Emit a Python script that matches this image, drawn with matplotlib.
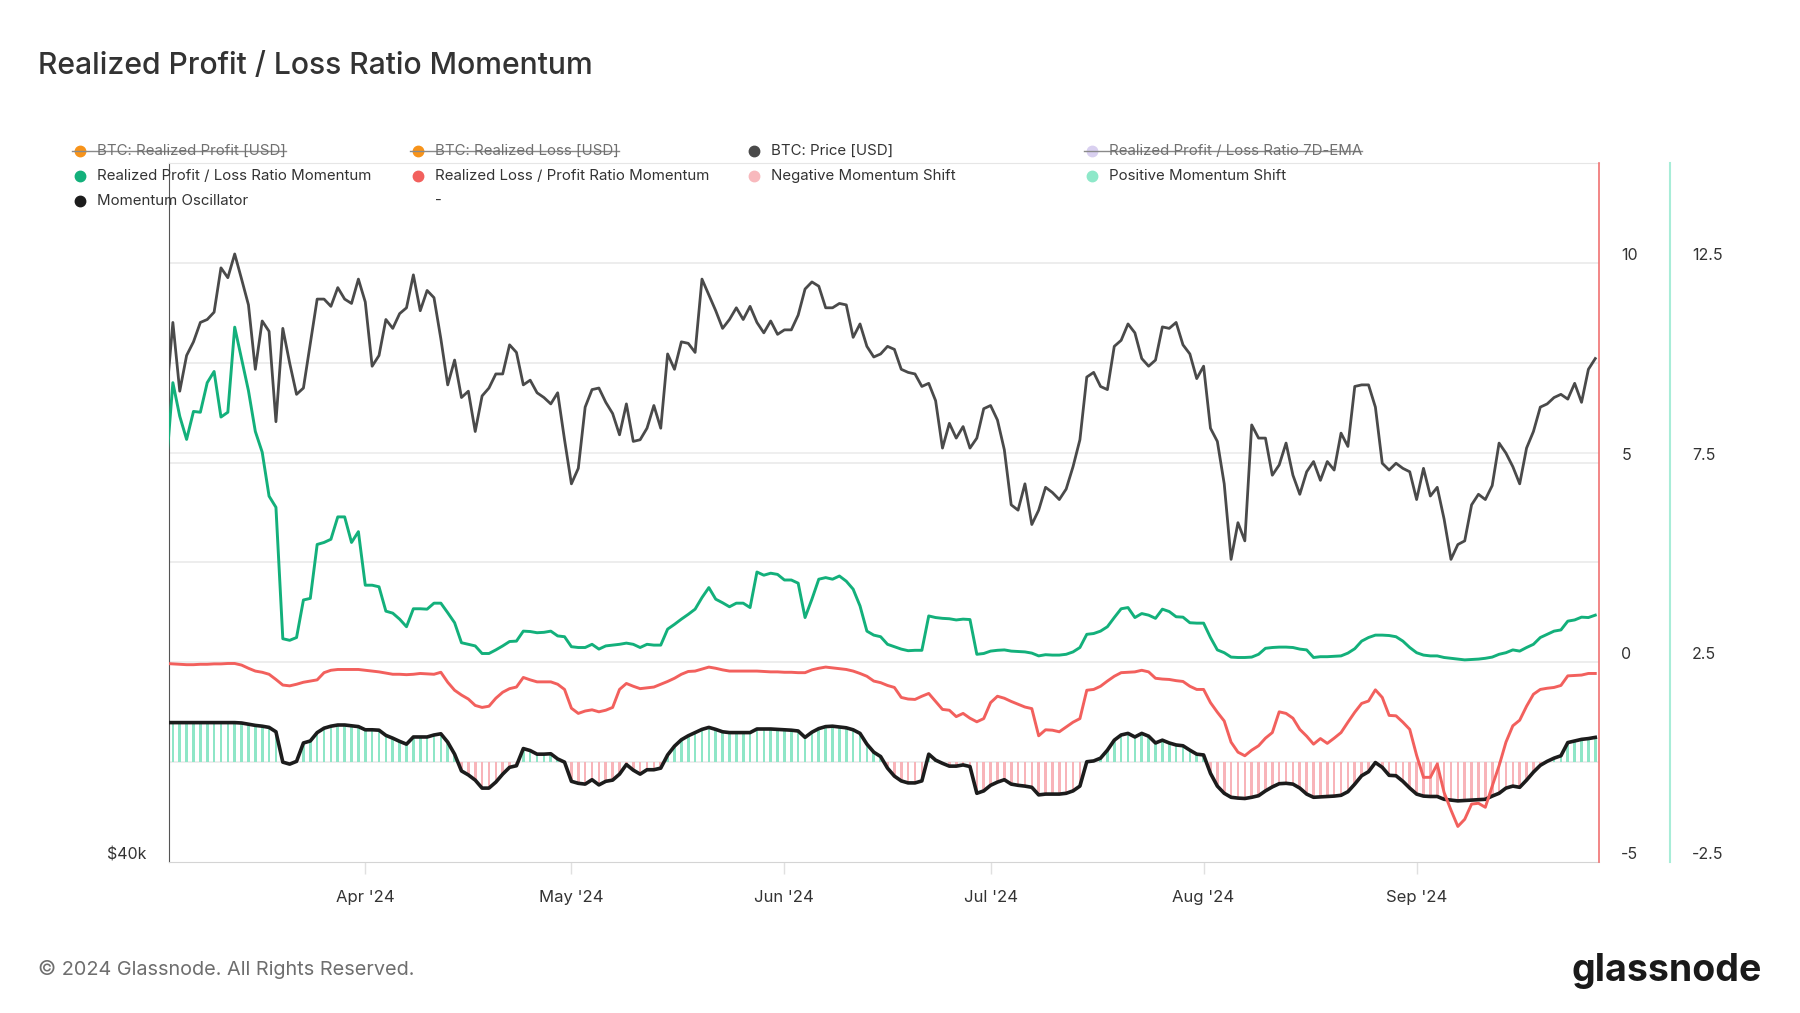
import matplotlib

matplotlib.use("Agg")
import matplotlib.dates as mdates
import matplotlib.pyplot as plt
import numpy as np
import pandas as pd
from matplotlib.lines import Line2D
from matplotlib.ticker import NullLocator
from matplotlib.transforms import blended_transform_factory

plt.rcParams["font.family"] = ["Inter", "DejaVu Sans"]

W, H = 1800, 1013

# daily values, 2024-03-03 .. 2024-09-27
dates = pd.date_range("2024-03-03", "2024-09-27", freq="D")

price_k = (
    # Mar 3-31
    [63.1, 68.3, 63.8, 66.1, 67.0, 68.3, 68.5, 69.0, 72.1, 71.4, 73.1, 71.3,
     69.5, 65.2, 68.4, 67.7, 61.9, 67.9, 65.6, 63.6, 64.0, 66.9, 69.9, 69.9,
     69.4, 70.7, 69.9, 69.6, 71.3]
    # Apr
    + [69.7, 65.4, 66.1, 68.5, 67.9, 68.9, 69.3, 71.6, 69.1, 70.5, 70.0, 67.2,
       64.2, 65.8, 63.4, 63.8, 61.3, 63.5, 64.0, 64.9, 64.9, 66.8, 66.3, 64.2,
       64.5, 63.7, 63.4, 63.0, 63.7, 60.8]
    # May
    + [58.2, 59.1, 62.8, 63.9, 64.0, 63.1, 62.4, 61.1, 63.0, 60.7, 60.8, 61.5,
       62.9, 61.5, 66.2, 65.2, 67.0, 66.9, 66.3, 71.3, 70.2, 69.1, 67.9, 68.5,
       69.3, 68.5, 69.4, 68.3, 67.6, 68.4, 67.5]
    # Jun
    + [67.8, 67.8, 68.8, 70.6, 71.1, 70.8, 69.3, 69.3, 69.6, 69.5, 67.3, 68.2,
       66.7, 66.0, 66.2, 66.7, 66.5, 65.2, 65.0, 64.9, 64.1, 64.3, 63.2, 60.3,
       61.8, 60.9, 61.6, 60.3, 60.9, 62.7]
    # Jul
    + [62.9, 62.0, 60.2, 57.0, 56.7, 58.2, 55.9, 56.7, 58.0, 57.7, 57.3, 57.9,
       59.2, 60.8, 64.7, 65.0, 64.1, 63.9, 66.7, 67.1, 68.2, 67.6, 65.9, 65.4,
       65.8, 68.0, 67.9, 68.3, 66.8, 66.2, 64.6]
    # Aug
    + [65.4, 61.5, 60.7, 58.2, 54.0, 56.0, 55.0, 61.7, 60.9, 60.9, 58.7, 59.3,
       60.6, 58.7, 57.6, 58.9, 59.5, 58.4, 59.5, 59.0, 61.2, 60.4, 64.1, 64.2,
       64.2, 62.8, 59.4, 59.0, 59.4, 59.1, 58.9]
    # Sep 1-27
    + [57.3, 59.1, 57.5, 58.0, 56.2, 54.0, 54.8, 55.0, 57.0, 57.6, 57.3, 58.1,
       60.6, 60.0, 59.2, 58.2, 60.3, 61.3, 62.8, 63.0, 63.4, 63.6, 63.3, 64.3,
       63.1, 65.2, 65.9]
)

pl_momentum = (
    [4.8, 7.0, 6.16, 5.58, 6.28, 6.26, 7.0, 7.28, 6.14, 6.26, 8.39, 7.6, 6.8,
     5.78, 5.26, 4.16, 3.88, 0.59, 0.55, 0.62, 1.56, 1.6, 2.95, 3.0, 3.08, 3.64,
     3.64, 3.0, 3.27]
    + [1.93, 1.93, 1.89, 1.28, 1.23, 1.08, 0.89, 1.34, 1.34, 1.33, 1.48, 1.48,
       1.24, 0.99, 0.49, 0.45, 0.41, 0.22, 0.22, 0.31, 0.41, 0.52, 0.53, 0.78,
       0.77, 0.74, 0.75, 0.78, 0.66, 0.64]
    + [0.39, 0.37, 0.37, 0.45, 0.33, 0.41, 0.43, 0.45, 0.48, 0.45, 0.37, 0.45,
       0.43, 0.43, 0.83, 0.95, 1.08, 1.2, 1.33, 1.62, 1.87, 1.58, 1.49, 1.39,
       1.48, 1.48, 1.37, 2.26, 2.18, 2.23, 2.2]
    + [2.06, 2.06, 1.98, 1.12, 1.58, 2.08, 2.12, 2.08, 2.16, 2.03, 1.83, 1.41,
       0.78, 0.68, 0.64, 0.45, 0.39, 0.33, 0.29, 0.3, 0.3, 1.16, 1.12, 1.1,
       1.09, 1.06, 1.08, 1.07, 0.2, 0.22]
    + [0.28, 0.3, 0.31, 0.28, 0.27, 0.26, 0.23, 0.16, 0.19, 0.18, 0.18, 0.2,
       0.26, 0.37, 0.7, 0.72, 0.78, 0.89, 1.12, 1.34, 1.37, 1.12, 1.22, 1.18,
       1.1, 1.33, 1.27, 1.14, 1.13, 0.99, 0.98]
    + [0.98, 0.62, 0.31, 0.24, 0.13, 0.12, 0.12, 0.13, 0.2, 0.35, 0.37, 0.38,
       0.38, 0.37, 0.33, 0.31, 0.12, 0.14, 0.14, 0.15, 0.16, 0.23, 0.34, 0.53,
       0.62, 0.68, 0.68, 0.67, 0.64, 0.53, 0.37]
    + [0.24, 0.18, 0.16, 0.16, 0.12, 0.1, 0.08, 0.06, 0.07, 0.08, 0.1, 0.13,
       0.2, 0.24, 0.31, 0.28, 0.37, 0.45, 0.62, 0.7, 0.78, 0.81, 1.03, 1.06,
       1.13, 1.12, 1.18]
)

lp_momentum = (
    [-0.03, -0.04, -0.05, -0.06, -0.06, -0.05, -0.05, -0.04, -0.04, -0.03,
     -0.03, -0.07, -0.15, -0.22, -0.25, -0.3, -0.43, -0.57, -0.59, -0.55, -0.5,
     -0.47, -0.44, -0.26, -0.2, -0.18, -0.18, -0.18, -0.18]
    + [-0.2, -0.22, -0.24, -0.27, -0.3, -0.3, -0.31, -0.3, -0.28, -0.29, -0.3,
       -0.25, -0.5, -0.7, -0.82, -0.92, -1.08, -1.13, -1.1, -0.9, -0.75, -0.66,
       -0.62, -0.38, -0.44, -0.49, -0.49, -0.49, -0.55, -0.68]
    + [-1.15, -1.28, -1.22, -1.19, -1.24, -1.2, -1.13, -0.68, -0.53, -0.6,
       -0.66, -0.64, -0.62, -0.55, -0.48, -0.4, -0.3, -0.23, -0.22, -0.17,
       -0.12, -0.15, -0.19, -0.22, -0.22, -0.22, -0.22, -0.22, -0.23, -0.24,
       -0.24]
    + [-0.25, -0.25, -0.26, -0.26, -0.19, -0.15, -0.12, -0.14, -0.16, -0.18,
       -0.22, -0.28, -0.35, -0.47, -0.51, -0.58, -0.63, -0.88, -0.92, -0.93,
       -0.85, -0.78, -0.98, -1.18, -1.2, -1.36, -1.28, -1.4, -1.49, -1.41]
    + [-1.01, -0.85, -0.9, -0.98, -1.05, -1.12, -1.16, -1.84, -1.69, -1.7,
       -1.74, -1.62, -1.5, -1.41, -0.7, -0.68, -0.6, -0.47, -0.35, -0.26, -0.25,
       -0.24, -0.2, -0.24, -0.4, -0.42, -0.43, -0.46, -0.48, -0.6, -0.68]
    + [-0.68, -1.01, -1.25, -1.47, -2.0, -2.25, -2.34, -2.2, -2.09, -1.9,
       -1.76, -1.24, -1.28, -1.4, -1.68, -1.85, -2.05, -1.91, -2.03, -1.9,
       -1.76, -1.5, -1.25, -1.03, -0.97, -0.69, -0.88, -1.33, -1.34, -1.5,
       -1.68]
    + [-2.33, -2.88, -2.88, -2.55, -3.26, -3.7, -4.11, -3.93, -3.55, -3.53,
       -3.63, -3.1, -2.59, -2.0, -1.59, -1.45, -1.1, -0.8, -0.68, -0.65, -0.63,
       -0.58, -0.34, -0.33, -0.32, -0.28, -0.28]
)

oscillator = (
    [0.99, 0.99, 0.99, 0.99, 0.99, 0.99, 0.99, 0.99, 0.99, 0.99, 0.99, 0.98,
     0.95, 0.92, 0.9, 0.87, 0.76, 0.0, -0.05, 0.02, 0.48, 0.53, 0.74, 0.85,
     0.9, 0.93, 0.93, 0.91, 0.89]
    + [0.81, 0.81, 0.8, 0.67, 0.6, 0.52, 0.45, 0.63, 0.63, 0.63, 0.68, 0.71,
       0.5, 0.2, -0.22, -0.32, -0.45, -0.65, -0.65, -0.5, -0.3, -0.13, -0.09,
       0.34, 0.29, 0.2, 0.2, 0.21, 0.08, 0.0]
    + [-0.48, -0.53, -0.55, -0.44, -0.57, -0.48, -0.45, -0.3, -0.06, -0.2,
       -0.3, -0.19, -0.19, -0.15, 0.18, 0.4, 0.56, 0.66, 0.74, 0.82, 0.87, 0.82,
       0.76, 0.74, 0.74, 0.74, 0.74, 0.83, 0.83, 0.83, 0.82]
    + [0.81, 0.8, 0.78, 0.62, 0.75, 0.84, 0.89, 0.9, 0.88, 0.86, 0.81, 0.72,
       0.45, 0.25, 0.14, -0.15, -0.35, -0.47, -0.52, -0.52, -0.47, 0.2, 0.05,
       -0.03, -0.1, -0.1, -0.07, -0.11, -0.78, -0.72]
    + [-0.58, -0.5, -0.44, -0.55, -0.58, -0.6, -0.63, -0.82, -0.8, -0.8, -0.8,
       -0.78, -0.72, -0.6, 0.01, 0.03, 0.1, 0.3, 0.55, 0.68, 0.72, 0.63, 0.72,
       0.65, 0.48, 0.55, 0.48, 0.43, 0.41, 0.3, 0.2]
    + [0.18, -0.28, -0.6, -0.78, -0.88, -0.9, -0.91, -0.88, -0.84, -0.72,
       -0.62, -0.54, -0.53, -0.55, -0.65, -0.8, -0.88, -0.87, -0.86, -0.85,
       -0.83, -0.74, -0.55, -0.34, -0.24, -0.01, -0.13, -0.33, -0.34, -0.48,
       -0.65]
    + [-0.8, -0.85, -0.86, -0.86, -0.93, -0.95, -0.97, -0.96, -0.95, -0.94,
       -0.93, -0.85, -0.78, -0.65, -0.6, -0.63, -0.45, -0.25, -0.08, 0.02, 0.1,
       0.16, 0.49, 0.53, 0.57, 0.59, 0.62]
)

assert len(price_k) == len(pl_momentum) == len(lp_momentum) == len(oscillator) == len(dates)

legend_rows = [
    [("BTC: Realized Profit [USD]", "#f7931a", True),
     ("BTC: Realized Loss [USD]", "#f7931a", True),
     ("BTC: Price [USD]", "#4a4a4a", False),
     ("Realized Profit / Loss Ratio 7D-EMA", "#d9d0f0", True)],
    [("Realized Profit / Loss Ratio Momentum", "#13b07b", False),
     ("Realized Loss / Profit Ratio Momentum", "#f2605d", False),
     ("Negative Momentum Shift", "#f8b9bd", False),
     ("Positive Momentum Shift", "#8ee8c9", False)],
    [("Momentum Oscillator", "#1c1c1c", False),
     ("-", None, False)],
]

GREEN = "#13b07b"
RED = "#f2605d"
TEAL_BAR = "#8ee6c7"
PINK_BAR = "#f8b4b9"
TXT = "#333333"


def fx(px):
    return px / W


def fy(py):
    return 1 - py / H


fig = plt.figure(figsize=(W / 100, H / 100), dpi=100)
L, R, T, B = 169, 1599, 163, 862
ax = fig.add_axes([fx(L), fy(B), (R - L) / W, (B - T) / H])
ax_t = ax.twinx()   # oscillator axis (outer, teal)
ax_r = ax.twinx()   # ratio momentum axis (inner, red)

# spines first: moving a spine resets its ticks
ax.spines["left"].set_color("#555555")
ax.spines["bottom"].set_color("#d4d4d4")
ax.spines["top"].set_color("#e6e6e6")
ax.spines["right"].set_visible(False)
for a in (ax_r, ax_t):
    for s in ("left", "top", "bottom"):
        a.spines[s].set_visible(False)
ax_r.spines["right"].set_color("#f07272")
ax_r.spines["right"].set_linewidth(1.2)
ax_t.spines["right"].set_position(("axes", 1 + 71 / (R - L)))
ax_t.spines["right"].set_color("#a8edd8")
ax_t.spines["right"].set_linewidth(1.5)

# price (log) on the base axis
ax.set_yscale("log")
ax.set_ylim(40000, 80000)
ax.set_yticks([40000])
ax.set_yticklabels(["$40k"])
ax.yaxis.set_minor_locator(NullLocator())
ax.axhline(60000, color="#ebebeb", lw=1.1, zorder=1)
ax.plot(dates, np.array(price_k) * 1000, color="#4a4a4a", lw=2.0, zorder=3)

ax_r.set_ylim(-5, 12.5)
ax_t.set_ylim(-2.5, 15)

grid_tr = blended_transform_factory(ax.transAxes, ax_r.transData)
for v in [-2.5, 0, 2.5, 5, 7.5, 10]:
    ax.plot([0, 1], [v, v], transform=grid_tr, color="#e8e8e8", lw=1.1, zorder=1)

# oscillator bars + line
osc = np.array(oscillator)
bar_colors = [TEAL_BAR if v >= 0 else PINK_BAR for v in osc]
ax_t.bar(dates, osc, width=0.38, color=bar_colors, zorder=1, linewidth=0)
ax_t.plot(dates, osc, color="#1c1c1c", lw=2.6, zorder=3)

ax_r.plot(dates, pl_momentum, color=GREEN, lw=2.1, zorder=3)
ax_r.plot(dates, lp_momentum, color=RED, lw=2.1, zorder=4)

ax.set_xlim(pd.Timestamp("2024-03-03 10:30"), pd.Timestamp("2024-09-27 13:00"))
ax.xaxis.set_major_locator(mdates.MonthLocator(bymonth=range(4, 10)))
ax.xaxis.set_major_formatter(mdates.DateFormatter("%b '%y"))
ax.tick_params(axis="x", length=8.5, width=1, color="#e0e0e0", pad=12,
               labelsize=12, labelcolor=TXT)
ax.tick_params(axis="y", length=0, pad=16, labelsize=11.5, labelcolor=TXT)

ax_r.set_yticks([-5, 0, 5, 10])
ax_r.set_yticklabels(["-5", "0", "5", "10"])
ax_r.tick_params(axis="y", length=0, pad=16, labelsize=11.5, labelcolor=TXT)
ax_t.set_yticks([-2.5, 2.5, 7.5, 12.5])
ax_t.set_yticklabels(["-2.5", "2.5", "7.5", "12.5"])
ax_t.tick_params(axis="y", length=0, pad=16, labelsize=11.5, labelcolor=TXT)
for a in (ax, ax_r, ax_t):
    for lbl in a.get_yticklabels():
        lbl.set_verticalalignment("bottom")

# title / footer
fig.text(fx(38), fy(66), "Realized Profit / Loss Ratio Momentum", fontsize=21.7,
         fontweight="medium", color=TXT, va="center", ha="left")
fig.text(fx(38), fy(969), "\u00a9 2024 Glassnode. All Rights Reserved.",
         fontsize=14.3, color="#6e6e6e", va="center", ha="left")
fig.text(fx(1762), fy(971), "glassnode", fontsize=27, fontweight="bold",
         color="#1a1a1a", va="center", ha="right")

# legend
col_x = [80, 418, 754, 1092]
row_y = [151, 176, 201]
struck = []
for r, row in enumerate(legend_rows):
    for c, (label, color, hidden) in enumerate(row):
        mx, my = col_x[c], row_y[r]
        if color is not None:
            fig.add_artist(Line2D([fx(mx)], [fy(my)], marker="o", ms=7.5,
                                  color=color, lw=0, transform=fig.transFigure))
        t = fig.text(fx(mx + 17), fy(my), label, fontsize=10.8,
                     color="#707070" if hidden else TXT, va="center", ha="left")
        if hidden:
            struck.append((mx, my, t))

fig.canvas.draw()
for mx, my, t in struck:
    bb = t.get_window_extent()
    fig.add_artist(Line2D([fx(mx - 8), bb.x1 / W], [fy(my), fy(my)],
                          color="#8a8a8a", lw=1.0, transform=fig.transFigure))

fig.savefig("out.png", dpi=100)
